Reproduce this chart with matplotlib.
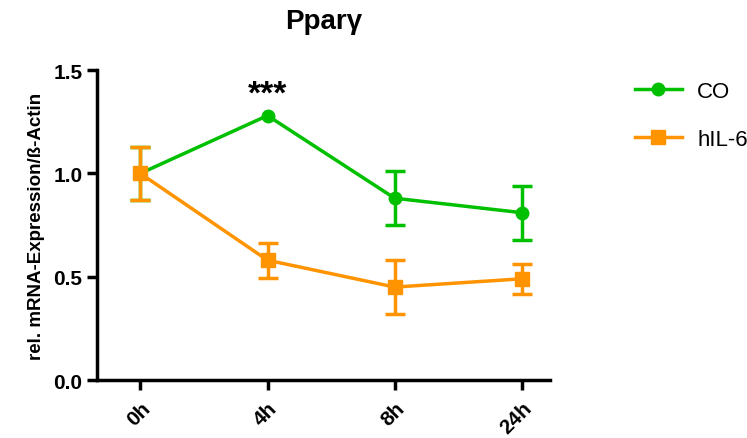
import matplotlib
matplotlib.use('Agg')
import matplotlib.pyplot as plt
from matplotlib.lines import Line2D

plt.rcParams['font.family'] = ['Liberation Sans', 'DejaVu Sans']

timepoints = ['0h', '4h', '8h', '24h']
co_mean = [1.0, 1.28, 0.88, 0.81]
co_sem = [0.13, None, 0.13, 0.13]
il6_mean = [1.0, 0.58, 0.45, 0.49]
il6_sem = [0.13, 0.085, 0.13, 0.072]

green = '#00c000'
orange = '#ff9400'

fig = plt.figure(figsize=(7.47, 4.39), dpi=100)
ax = fig.add_axes([0.130, 0.132, 0.606, 0.706])

x = list(range(len(timepoints)))


def draw_series(means, sems, color, marker, ms, z):
    ex = [i for i, s in zip(x, sems) if s is not None]
    ey = [m for m, s in zip(means, sems) if s is not None]
    ee = [s for s in sems if s is not None]
    ax.errorbar(ex, ey, yerr=ee, fmt='none', ecolor=color, elinewidth=2.5,
                capsize=7, capthick=2.5, zorder=z)
    ax.plot(x, means, color=color, marker=marker, markersize=ms, linewidth=2.5, zorder=z)


draw_series(co_mean, co_sem, green, 'o', 9, 3)
draw_series(il6_mean, il6_sem, orange, 's', 10, 4)

ax.text(1, co_mean[1] + 0.03, '***', ha='center', va='bottom', fontsize=24, fontweight='bold')

ax.set_xlim(-0.34, 3.22)
ax.set_ylim(0, 1.5)
ax.set_yticks([0.0, 0.5, 1.0, 1.5])
ax.set_yticklabels(['0.0', '0.5', '1.0', '1.5'], fontsize=15, fontweight='bold')
ax.set_xticks(x)
ax.set_xticklabels(timepoints, fontsize=15, fontweight='bold', rotation=45,
                   ha='right', rotation_mode='anchor')
ax.tick_params(axis='x', pad=6)
ax.set_ylabel('rel. mRNA-Expression/ß-Actin', fontsize=13.5, fontweight='bold', labelpad=6)
ax.set_title('Pparγ', fontsize=20, fontweight='bold', pad=30)

for side in ['top', 'right']:
    ax.spines[side].set_visible(False)
for side in ['left', 'bottom']:
    ax.spines[side].set_linewidth(2.5)
ax.tick_params(width=2.5, length=7)

handles = [Line2D([], [], color=green, marker='o', markersize=9, linewidth=2.5),
           Line2D([], [], color=orange, marker='s', markersize=10, linewidth=2.5)]
ax.legend(handles, ['CO', 'hIL-6'], loc='upper left', bbox_to_anchor=(1.188, 0.965),
          frameon=False, fontsize=16, handlelength=2.1, labelspacing=1.2,
          handletextpad=0.7, borderpad=0, borderaxespad=0)

fig.savefig('out.png', dpi=100)
